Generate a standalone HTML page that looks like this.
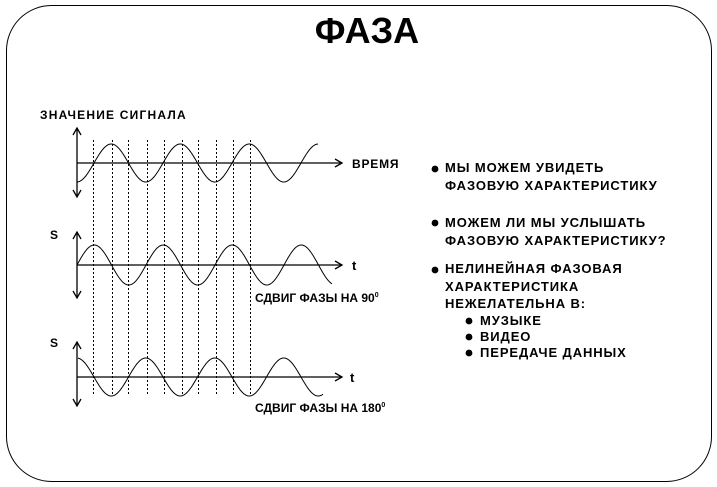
<!DOCTYPE html>
<html><head><meta charset="utf-8"><style>
html,body{margin:0;padding:0;background:#fff;width:717px;height:487px;overflow:hidden}
svg text{font-family:"Liberation Sans","DejaVu Sans",sans-serif;font-weight:bold;fill:#000}
</style></head><body>
<svg id="s" width="717" height="487" viewBox="0 0 717 487" xmlns="http://www.w3.org/2000/svg">
<rect x="6.5" y="5.5" width="705" height="476" rx="45" ry="45" fill="none" stroke="#000" stroke-width="1"/>
<text x="367" y="43" font-size="36" text-anchor="middle" style="font-family:'Liberation Sans Narrow','Liberation Sans',sans-serif">ФАЗА</text>
<text x="40" y="119" font-size="12" letter-spacing="1.2">ЗНАЧЕНИЕ СИГНАЛА</text>
<g id="dash" stroke="#000" stroke-width="1" stroke-dasharray="2,2"></g>
<g stroke="#000" stroke-width="1.3" fill="none">
<line x1="77" y1="128" x2="77" y2="197"/><polyline points="73,135 77,128 81,135"/><polyline points="73,190 77,197 81,190"/>
<line x1="77" y1="163" x2="342" y2="163"/><polyline points="335,159 342,163 335,167"/>
<line x1="77" y1="232" x2="77" y2="298"/><polyline points="73,239 77,232 81,239"/><polyline points="73,291 77,298 81,291"/>
<line x1="77" y1="265" x2="342" y2="265"/><polyline points="335,261 342,265 335,269"/>
<line x1="77" y1="342" x2="77" y2="406"/><polyline points="73,349 77,342 81,349"/><polyline points="73,399 77,406 81,399"/>
<line x1="77" y1="377" x2="342" y2="377"/><polyline points="335,373 342,377 335,381"/>
</g>
<path id="w1" fill="none" stroke="#000" stroke-width="1"/>
<path id="w2" fill="none" stroke="#000" stroke-width="1"/>
<path id="w3" fill="none" stroke="#000" stroke-width="1"/>
<text x="352" y="168" font-size="12" letter-spacing="0.8">ВРЕМЯ</text>
<text x="352" y="270" font-size="13">t</text>
<text x="350" y="382" font-size="13">t</text>
<text x="50" y="239" font-size="12">S</text>
<text x="50" y="347" font-size="12">S</text>
<text x="255" y="302" font-size="12">СДВИГ ФАЗЫ НА 90<tspan font-size="7" dy="-5">0</tspan></text>
<text x="255" y="412" font-size="12">СДВИГ ФАЗЫ НА 180<tspan font-size="7" dy="-5">0</tspan></text>
<g font-size="13" letter-spacing="0.9">
<circle cx="435" cy="169" r="3.4"/><text x="445" y="172">МЫ МОЖЕМ УВИДЕТЬ</text>
<text x="445" y="190">ФАЗОВУЮ ХАРАКТЕРИСТИКУ</text>
<circle cx="435" cy="223" r="3.4"/><text x="445" y="227">МОЖЕМ ЛИ МЫ УСЛЫШАТЬ</text>
<text x="445" y="245">ФАЗОВУЮ ХАРАКТЕРИСТИКУ?</text>
<circle cx="435" cy="270" r="3.4"/><text x="445" y="273">НЕЛИНЕЙНАЯ ФАЗОВАЯ</text>
<text x="445" y="291">ХАРАКТЕРИСТИКА</text>
<text x="445" y="308">НЕЖЕЛАТЕЛЬНА В:</text>
<circle cx="469" cy="321" r="3.4"/><text x="480" y="325">МУЗЫКЕ</text>
<circle cx="469" cy="337" r="3.4"/><text x="480" y="341">ВИДЕО</text>
<circle cx="469" cy="353" r="3.4"/><text x="480" y="357">ПЕРЕДАЧЕ ДАННЫХ</text>
</g>
</svg>
<script>
(function(){
var P=69;
function wave(id,x0,x1,f){var d="";for(var x=x0;x<=x1;x+=1){d+=(x==x0?"M":"L")+x+","+f(x).toFixed(2)+" ";}document.getElementById(id).setAttribute("d",d);}
wave("w1",77,318,function(x){return 163-19*Math.sin(2*Math.PI*(x-94)/P);});
wave("w2",77,332,function(x){return 265-20*Math.sin(2*Math.PI*(x-77)/P);});
wave("w3",78,323,function(x){return 377+19*Math.sin(2*Math.PI*(x-94)/P);});
var xs=[93,112,128,147,164,182,198,216,233,250],g=document.getElementById("dash");
xs.forEach(function(x){var l=document.createElementNS("http://www.w3.org/2000/svg","line");l.setAttribute("x1",x+0.5);l.setAttribute("x2",x+0.5);l.setAttribute("y1",140);l.setAttribute("y2",395);g.appendChild(l);});
})();
</script>
</body></html>
